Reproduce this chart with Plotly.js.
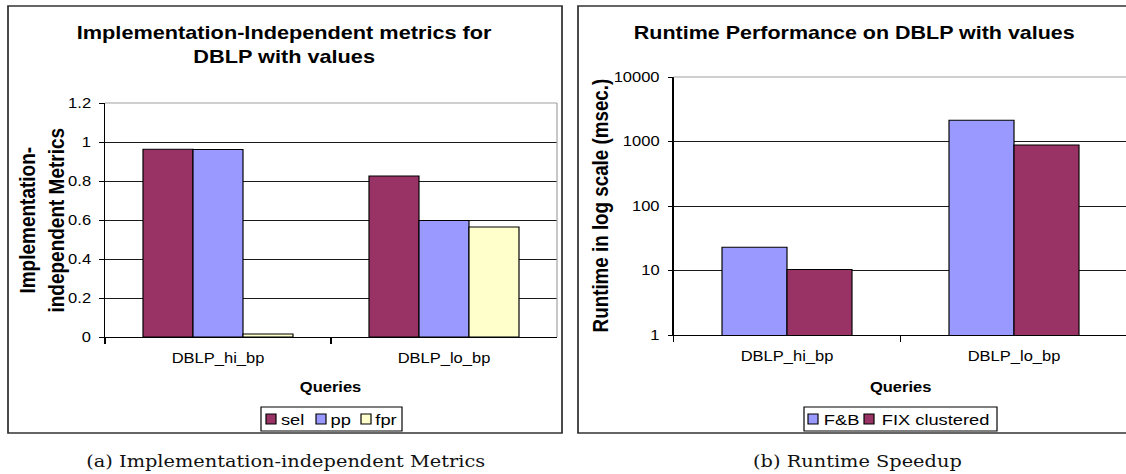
<!DOCTYPE html>
<html>
<head>
<meta charset="utf-8">
<script src="https://cdn.plot.ly/plotly-3.0.1.min.js"></script>
<style>
  html, body { margin: 0; padding: 0; background: #ffffff; overflow: hidden; }
  #wrap { width: 1126px; height: 474px; overflow: hidden; }
  #chart { width: 954px; height: 474px; transform: scaleX(1.1803); transform-origin: 0 0; }
</style>
</head>
<body>
<div id="wrap"><div id="chart"></div></div>
<script>
// ---- data ----
const categories = ['DBLP_hi_bp', 'DBLP_lo_bp'];

const metricNames = ['sel', 'pp', 'fpr'];
const selValues = [0.963, 0.826];
const ppValues = [0.962, 0.598];
const fprValues = [0.015, 0.564];

const runtimeNames = ['F&B', 'FIX clustered'];
const fbRuntime = [22.9, 2130];
const fixRuntime = [10.4, 883];

const metricTickVals = [0, 0.2, 0.4, 0.6, 0.8, 1, 1.2];
const metricTickText = ['0', '0.2', '0.4', '0.6', '0.8', '1', '1.2'];
const runtimeTickVals = [1, 10, 100, 1000, 10000];
const runtimeTickText = ['1', '10', '100', '1000', '10000'];

const leftTitle = ['Implementation-Independent metrics for', 'DBLP with values'];
const rightTitle = 'Runtime Performance on DBLP with values';
const leftYTitle = ['Implementation-', 'independent Metrics'];
const rightYTitle = 'Runtime in log scale (msec.)';
const xTitle = 'Queries';
const captionA = '(a) Implementation-independent Metrics';
const captionB = '(b) Runtime Speedup';

// ---- styles ----
const PLUM = '#993366', PERI = '#9999FF', CREAM = '#FFFFCC';
const metricColors = [PLUM, PERI, CREAM];
const runtimeColors = [PERI, PLUM];
const W = 1126, H = 474;
const px = v => v / W;           // horizontal pixel -> paper fraction
const py = v => (H - v) / H;     // vertical pixel -> paper fraction
const bold = s => '<b>' + s + '</b>';

const barLine = { color: '#000000', width: 1 };
const metricSeries = [selValues, ppValues, fprValues];
const metricOffsets = [-0.3319, -0.1106, 0.1106];
const runtimeSeries = [fbRuntime, fixRuntime];
const runtimeOffsets = [-0.2863, 0];

const traces = [];
metricSeries.forEach((vals, i) => traces.push({
  type: 'bar', x: categories, y: vals, name: metricNames[i], xaxis: 'x', yaxis: 'y',
  marker: { color: metricColors[i], line: barLine }, width: 0.2212, offset: metricOffsets[i],
  showlegend: false
}));
runtimeSeries.forEach((vals, i) => traces.push({
  type: 'bar', x: categories, y: vals, name: runtimeNames[i], xaxis: 'x2', yaxis: 'y2',
  marker: { color: runtimeColors[i], line: barLine }, width: 0.2863, offset: runtimeOffsets[i],
  showlegend: false
}));

const font = { family: '"Liberation Sans", Arial, sans-serif', color: '#000000', size: 14 };

const xCommon = {
  type: 'category', showline: true, linecolor: '#000000', linewidth: 1,
  ticks: 'outside', tickson: 'boundaries', ticklen: 6, tickcolor: '#000000', tickwidth: 1,
  showgrid: false, zeroline: false, tickfont: { size: 14 }, ticklabelstandoff: 8, fixedrange: true
};
const yCommon = {
  showline: true, linecolor: '#000000', linewidth: 1,
  ticks: 'outside', ticklen: 4, tickcolor: '#000000', tickwidth: 1,
  showgrid: true, gridcolor: '#1a1a1a', gridwidth: 1, zeroline: false,
  tickfont: { size: 14 }, ticklabelstandoff: 4, fixedrange: true
};

const frameGray = { color: '#a0a0a0', width: 1 };
const shapes = [
  { type: 'rect', xref: 'paper', yref: 'paper', x0: px(8), x1: px(562), y0: py(433), y1: py(6),
    line: { color: '#333333', width: 1.5 }, fillcolor: 'rgba(0,0,0,0)', layer: 'below' },
  { type: 'rect', xref: 'paper', yref: 'paper', x0: px(578), x1: 1.05, y0: py(433), y1: py(6),
    line: { color: '#333333', width: 1.5 }, fillcolor: 'rgba(0,0,0,0)', layer: 'below' },
  // grey plot-area frame: top and right edges
  { type: 'line', xref: 'x domain', yref: 'y domain', x0: 0, x1: 1, y0: 1, y1: 1, line: frameGray, layer: 'above' },
  { type: 'line', xref: 'x domain', yref: 'y domain', x0: 1, x1: 1, y0: 0, y1: 1, line: frameGray, layer: 'above' },
  { type: 'line', xref: 'x2 domain', yref: 'y2 domain', x0: 0, x1: 1.01, y0: 1, y1: 1, line: frameGray, layer: 'above' }
];

const annotations = [
  { text: bold(leftTitle[0]) + '<br>' + bold(leftTitle[1]), xref: 'paper', yref: 'paper',
    x: px(285), y: py(45), xanchor: 'center', yanchor: 'middle', showarrow: false,
    font: { size: 18.4 }, align: 'center' },
  { text: bold(rightTitle), xref: 'paper', yref: 'paper',
    x: px(855), y: py(33), xanchor: 'center', yanchor: 'middle', showarrow: false,
    font: { size: 18.2 } },
  { text: bold(leftYTitle[0]) + '<br>' + bold(leftYTitle[1]), xref: 'paper', yref: 'paper',
    x: px(42), y: py(220), xanchor: 'center', yanchor: 'middle', showarrow: false,
    textangle: -90, font: { size: 19 }, align: 'center' },
  { text: bold(rightYTitle), xref: 'paper', yref: 'paper',
    x: px(600), y: py(205), xanchor: 'center', yanchor: 'middle', showarrow: false,
    textangle: -90, font: { size: 18.8 } },
  { text: bold(xTitle), xref: 'paper', yref: 'paper',
    x: px(331), y: py(387), xanchor: 'center', yanchor: 'middle', showarrow: false,
    font: { size: 14 } },
  { text: bold(xTitle), xref: 'paper', yref: 'paper',
    x: px(900.5), y: py(387), xanchor: 'center', yanchor: 'middle', showarrow: false,
    font: { size: 14 } },
  { text: captionA, xref: 'paper', yref: 'paper',
    x: px(286), y: py(461), xanchor: 'center', yanchor: 'middle', showarrow: false,
    font: { family: '"DejaVu Serif", serif', size: 16.4, color: '#111111' } },
  { text: captionB, xref: 'paper', yref: 'paper',
    x: px(858), y: py(461), xanchor: 'center', yanchor: 'middle', showarrow: false,
    font: { family: '"DejaVu Serif", serif', size: 16.4, color: '#111111' } }
];

// ---- legends (Excel style: compact boxed row of swatches) ----
function addLegend(names, colors, box, swatchX, textX) {
  const top = 407, bottom = 431, mid = 419;
  shapes.push({ type: 'rect', xref: 'paper', yref: 'paper', x0: px(box[0]), x1: px(box[1]),
    y0: py(bottom), y1: py(top), line: { color: '#000000', width: 1 }, fillcolor: '#ffffff' });
  names.forEach((name, i) => {
    shapes.push({ type: 'rect', xref: 'paper', yref: 'paper',
      x0: px(swatchX[i]), x1: px(swatchX[i] + 10), y0: py(mid + 5), y1: py(mid - 5),
      line: { color: '#000000', width: 1 }, fillcolor: colors[i] });
    annotations.push({ text: name, xref: 'paper', yref: 'paper', x: px(textX[i]), y: py(mid + 0.5),
      xanchor: 'left', yanchor: 'middle', showarrow: false, borderpad: 0,
      font: { size: 15.5 } });
  });
}
addLegend(metricNames, metricColors, [261, 402], [266, 316, 361], [280, 329, 374]);
addLegend(runtimeNames, runtimeColors, [804, 997], [808, 864], [823, 880]);

const layout = {
  width: 954, height: 474,
  margin: { l: 0, r: 0, t: 0, b: 0 },
  paper_bgcolor: '#ffffff', plot_bgcolor: '#ffffff',
  font: font,
  barmode: 'group',
  showlegend: false,
  xaxis: Object.assign({}, xCommon, { domain: [px(105), px(557)], anchor: 'y', range: [-0.5, 1.5] }),
  yaxis: Object.assign({}, yCommon, { domain: [py(337), py(103)], anchor: 'x', range: [0, 1.2],
    tickvals: metricTickVals, ticktext: metricTickText }),
  xaxis2: Object.assign({}, xCommon, { domain: [px(673.5), 1], anchor: 'y2', range: [-0.5, 1.4934] }),
  yaxis2: Object.assign({}, yCommon, { domain: [py(335), py(77)], anchor: 'x2', type: 'log', range: [0, 4],
    tickvals: runtimeTickVals, ticktext: runtimeTickText }),
  shapes: shapes,
  annotations: annotations
};

Plotly.newPlot('chart', traces, layout, { staticPlot: true, displayModeBar: false });
</script>
</body>
</html>
